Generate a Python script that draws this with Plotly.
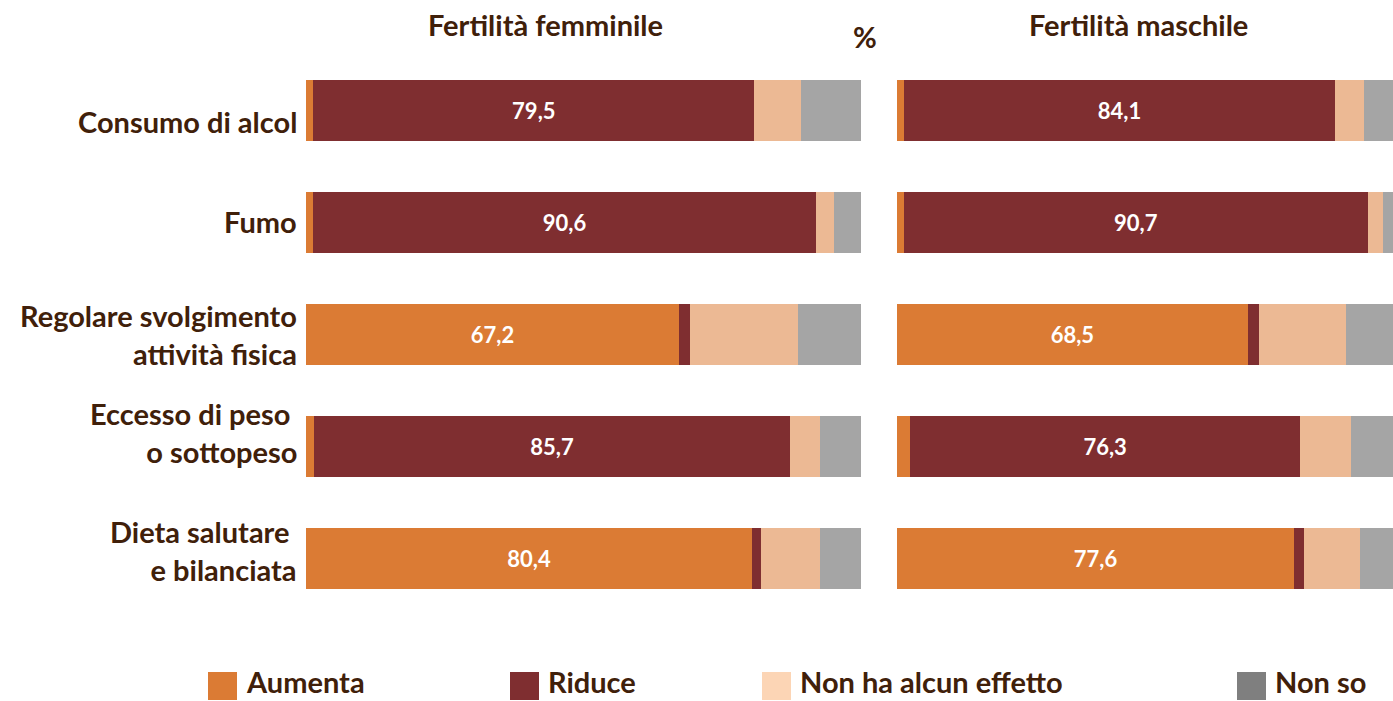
import plotly.graph_objects as go

categories = ["Consumo di alcol", "Fumo", "Regolare svolgimento<br>attività fisica",
              "Eccesso di peso <br>o sottopeso", "Dieta salutare <br>e bilanciata"]
series_names = ["Aumenta", "Riduce", "Non ha alcun effetto", "Non so"]

# Fertilità femminile
fem_aumenta = [1.3, 1.3, 67.2, 1.5, 80.4]
fem_riduce = [79.5, 90.6, 2.0, 85.7, 1.6]
fem_nonha = [8.3, 3.3, 19.5, 5.5, 10.6]
fem_nonso = [10.9, 4.8, 11.3, 7.3, 7.4]

# Fertilità maschile
mas_aumenta = [1.4, 1.3, 68.5, 2.5, 77.6]
mas_riduce = [84.1, 90.7, 2.2, 76.3, 1.9]
mas_nonha = [5.7, 2.9, 17.0, 9.8, 11.0]
mas_nonso = [8.8, 5.1, 12.3, 11.4, 9.5]

bar_colors = ["#DB7B34", "#7F2E30", "#ECB994", "#A5A5A5"]
legend_colors = ["#DB7B34", "#7F2E30", "#FCD5B5", "#7F7F7F"]
txt_color = "#40200A"
FONT = "Lato"
BIG = 29

W, H = 1393, 701
fig = go.Figure()

def fmt(v):
    return f"{v:.1f}".replace(".", ",")

panels = [
    ([fem_aumenta, fem_riduce, fem_nonha, fem_nonso], "x", "y"),
    ([mas_aumenta, mas_riduce, mas_nonha, mas_nonso], "x2", "y2"),
]
ycat = list(range(len(categories)))
for series, xa, ya in panels:
    for i, vals in enumerate(series):
        texts = []
        for j, v in enumerate(vals):
            main = max(s[j] for s in series)
            texts.append(fmt(v) if v == main else "")
        fig.add_trace(go.Bar(
            x=vals, y=ycat, orientation="h", xaxis=xa, yaxis=ya,
            marker=dict(color=bar_colors[i], line=dict(width=0)),
            text=texts, textposition="inside", insidetextanchor="middle",
            textfont=dict(color="white", size=22, family=FONT, weight="bold"),
            textangle=0, showlegend=False, hoverinfo="x", name=series_names[i],
        ))

ydom = [(H - 614.5) / H, (H - 54.5) / H]
left_x0, left_x1 = 306, 861
right_x0, right_w = 897, 512
fig.update_layout(
    width=W, height=H, barmode="stack", bargap=1 - 61 / 112,
    margin=dict(l=0, r=0, t=0, b=0),
    paper_bgcolor="white", plot_bgcolor="white",
    xaxis=dict(domain=[left_x0 / W, left_x1 / W], range=[0, 100], visible=False),
    yaxis=dict(domain=ydom, range=[4.5, -0.5], visible=False),
    xaxis2=dict(domain=[right_x0 / W, 1.0], range=[0, 100 * (W - right_x0) / right_w], visible=False),
    yaxis2=dict(domain=ydom, range=[4.5, -0.5], visible=False, anchor="x2"),
    font=dict(family=FONT, color=txt_color),
)

# category labels (vertical offsets mimic the reference placement)
label_shift = [-11, 1, 0, 14, 8]
for j, c in enumerate(categories):
    fig.add_annotation(x=299 / W, xref="paper", y=j, yref="y", text=c, showarrow=False,
                       xanchor="right", align="right", yshift=label_shift[j],
                       font=dict(size=BIG, family=FONT, color=txt_color, weight="bold"))

# titles
for t, xc, yc in [("Fertilità femminile", 545, 24), ("%", 865, 37), ("Fertilità maschile", 1138, 24)]:
    fig.add_annotation(x=xc / W, xref="paper", y=1 - yc / H, yref="paper",
                       text=t, showarrow=False, xanchor="center", yanchor="middle",
                       font=dict(size=BIG, family=FONT, color=txt_color, weight="bold"))

# legend
leg_x = [208, 510, 762, 1237]
ly = 686
for i, name in enumerate(series_names):
    fig.add_shape(type="rect", xref="paper", yref="paper",
                  x0=leg_x[i] / W, x1=(leg_x[i] + 29) / W,
                  y0=1 - (ly + 14) / H, y1=1 - (ly - 14) / H,
                  fillcolor=legend_colors[i], line=dict(width=0))
    fig.add_annotation(x=(leg_x[i] + 36) / W, xref="paper", y=0, yref="paper",
                       text=name, showarrow=False, xanchor="left", yanchor="bottom",
                       font=dict(size=BIG, family=FONT, color=txt_color, weight="bold"))

fig.write_html("out.html", config={"displayModeBar": False},
               post_script="document.body.style.margin='0';document.body.style.overflow='hidden';")
